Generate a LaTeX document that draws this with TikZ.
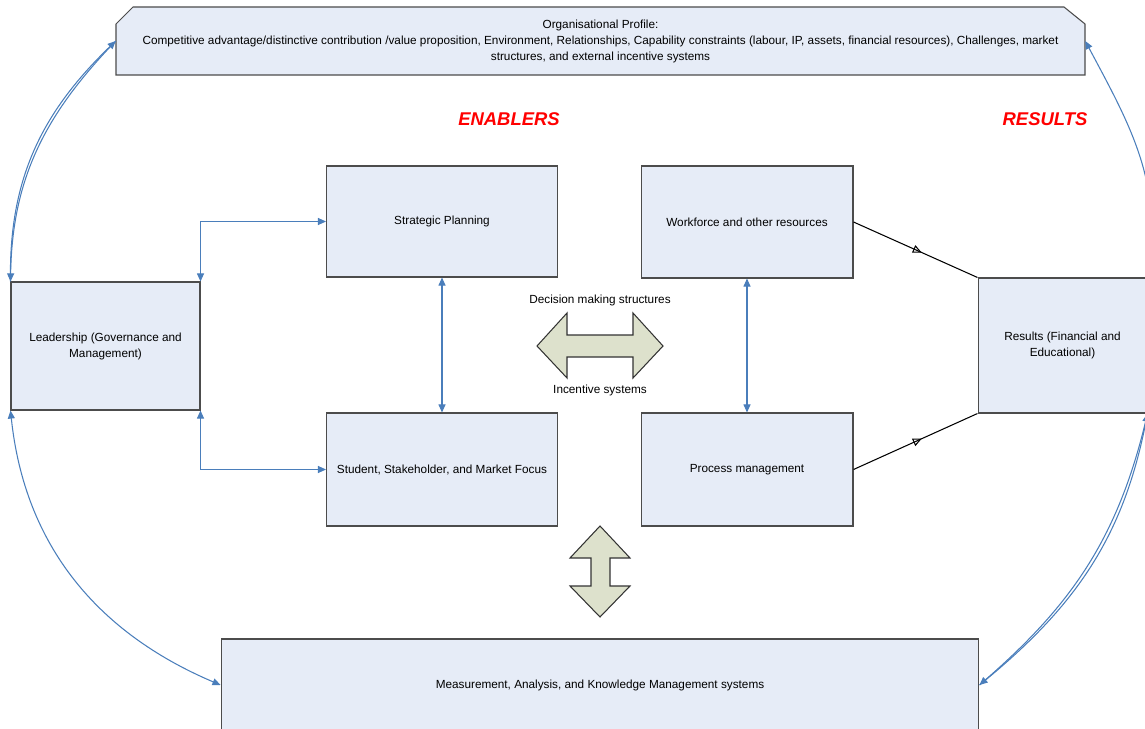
\documentclass[tikz,border=0pt]{standalone}
\usepackage{fontspec}
\setmainfont{Liberation Sans}
\usetikzlibrary{arrows.meta,decorations.markings}

\definecolor{boxfill}{HTML}{E6ECF7}
\definecolor{linkblue}{HTML}{4A7EBB}
\definecolor{bigfill}{HTML}{DDE1CC}

\tikzset{
        block/.style={draw=black!70, line width=0.6pt, fill=boxfill, inner sep=2pt,
          align=center, font=\fontsize{6.7}{9.1}\selectfont},
        lbl/.style={font=\fontsize{6.7}{9.1}\selectfont, align=center},
        title/.style={font=\bfseries\itshape\fontsize{10.5}{12}\selectfont, text=red},
        link/.style={draw=linkblue, line width=0.6pt, -{Triangle[length=4.6pt,width=4pt]}},
        dlink/.style={link, {Triangle[length=4.6pt,width=4pt]}-{Triangle[length=4.6pt,width=4pt]}},
        flow/.style={draw=black, line width=0.6pt, postaction={decorate},
          decoration={markings, mark=at position 0.55 with {\arrow{Triangle[open,length=5pt,width=4.6pt]}}}},
        bigarrow/.style={draw=black!80, line width=0.6pt, fill=bigfill},
}

\begin{document}
\begin{tikzpicture}[x=0.02cm,y=0.02cm]
        \useasboundingbox (0,0) rectangle (1145,-729) ;
        %\draw[very thin,gray,step=50] (0,0) grid (1145,-729) ;

        % organisational profile (chamfered box)
        \filldraw[draw=black!70, line width=0.6pt, fill=boxfill]
        (116,-75)--(116,-24)--(133,-7)--(1064,-7)--(1085,-24)--(1085,-75)--cycle ;
        \node[lbl, minimum width=19.38cm, minimum height=1.36cm] (org) at (600.5,-41)
        {Organisational Profile:\\
        Competitive advantage/distinctive contribution /value proposition, Environment, Relationships, Capability constraints\ (labour, IP, assets, financial resources), Challenges, market\\
        structures, and external incentive systems} ;

        \node[title] (enab) at (509,-119) {ENABLERS} ;
        \node[title] (resl) at (1045,-119) {RESULTS} ;

        % boxes
        \node[block, minimum width=3.78cm, minimum height=2.56cm] (lead) at (105.5,-346)
        {Leadership\ (Governance and\\ Management)} ;
        \node[block, minimum width=4.62cm, minimum height=2.22cm] (plan) at (442,-221.5)
        {Strategic Planning} ;
        \node[block, minimum width=4.62cm, minimum height=2.26cm] (focus) at (442,-469.5)
        {Student, Stakeholder, and Market Focus} ;
        \node[block, minimum width=4.24cm, minimum height=2.24cm] (work) at (747,-222)
        {Workforce and other resources} ;
        \node[block, minimum width=4.24cm, minimum height=2.26cm] (proc) at (747,-469.5)
        {Process management} ;
        \node[block, minimum width=3.38cm, minimum height=2.7cm] (res) at (1062.5,-345.5)
        {Results (Financial and\\ Educational)} ;
        \node[block, minimum width=15.16cm, minimum height=1.84cm] (meas) at (600,-685)
        {Measurement, Analysis, and Knowledge Management systems} ;

        % big double arrows
        \filldraw[bigarrow] (537,-346)--(567,-313)--(567,-335)--(633,-335)--(633,-313)--(663,-346)
        --(633,-378)--(633,-357)--(567,-357)--(567,-378)--cycle ;
        \filldraw[bigarrow] (600,-526)--(630,-558)--(610,-558)--(610,-586)--(630,-586)--(600,-617)
        --(570,-586)--(591,-586)--(591,-558)--(570,-558)--cycle ;
        \node[lbl] (dec) at (600,-300) {Decision making structures} ;
        \node[lbl] (inc) at (600,-390) {Incentive systems} ;

        % connectors
        \draw[dlink] (lead.north east) |- (plan.west) ;
        \draw[dlink] (lead.south east) |- (focus.west) ;
        \draw[dlink] (plan.south) -- (focus.north) ;
        \draw[dlink] (work.south) -- (proc.north) ;
        \draw[flow] (work.east) -- (res.north west) ;
        \draw[flow] (proc.east) -- (res.south west) ;

        % outer loop
        \draw[link] (lead.north west) to[out=91,in=-136] (org.west) ;
        \draw[link] (org.west) to[out=-134,in=89] (lead.north west) ;
        \draw[dlink] (lead.south west) to[out=-84,in=157] (meas.west) ;
        \draw[link] (res.south east) to[out=-103,in=41] (meas.east) ;
        \draw[link] (meas.east) to[out=39,in=-101] (res.south east) ;
        \draw[link] (res.north east) to[out=80,in=-62] (org.east) ;
\end{tikzpicture}
\end{document}
